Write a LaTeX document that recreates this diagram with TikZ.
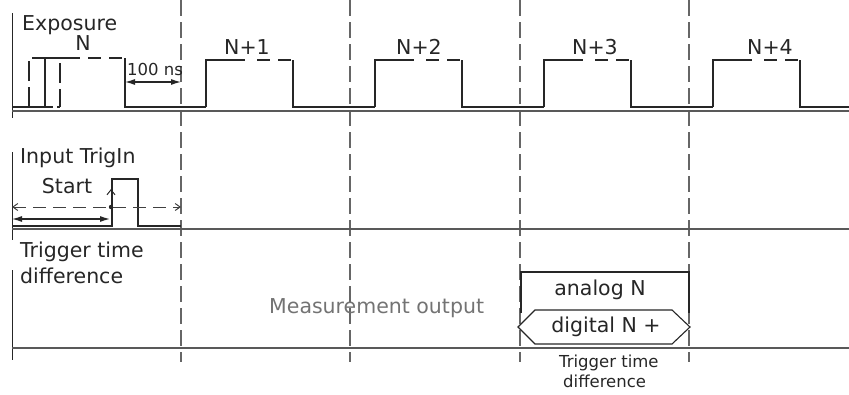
\documentclass[tikz,border=0pt]{standalone}
\usepackage{fontspec}
\setmainfont{DejaVu Sans}
\usetikzlibrary{arrows.meta,positioning}

\begin{document}
\begin{tikzpicture}[
  x=1pt, y=-1pt,
  sig/.style={draw=black!85, line width=1.3pt},
  sigdash/.style={sig, dash pattern=on 13pt off 8pt},
  axis/.style={draw=black!65, line width=1.2pt},
  slot/.style={draw=black!60, line width=1.1pt, dash pattern=on 16pt off 6pt},
  lbl/.style={font=\fontsize{20.5}{24}\selectfont, text=black!85, inner sep=0pt},
  small/.style={font=\fontsize{16.5}{20}\selectfont, text=black!85, inner sep=0pt},
  dim/.style={{Latex[length=10pt,width=6pt]}-{Latex[length=10pt,width=6pt]}, draw=black!85, line width=1.2pt}
]
\useasboundingbox (0,0) rectangle (849,394);

% time slots
\foreach \x in {181,350,520,689}
  \draw[slot] (\x,0) -- (\x,362);

% row frames
\draw[sig, line width=1pt] (12,13) -- (12,118);
\draw[sig, line width=1pt] (12,152) -- (12,240);
\draw[sig, line width=1pt] (12,270) -- (12,360);
\draw[axis] (12,111) -- (849,111);
\draw[axis] (12,229) -- (849,229);
\draw[axis] (12,348) -- (849,348);

% Row 1: Exposure
\node[lbl, anchor=base west] (expo) at (22,30) {Exposure};
\node[lbl, anchor=base] (pN) at (83,50) {N};
\draw[sig] (12,107) -- (45,107) -- (45,58) -- (80,58);
\draw[sigdash] (88,58) -- (125,58);
\draw[sig] (125,58) -- (125,107) -- (206,107);
\draw[sig, dash pattern=on 20pt off 6pt] (29,107) -- (29,58) -- (45,58);
\draw[sig, dash pattern=on 20pt off 6pt] (60,63) -- (60,107);
\draw[sig, dash pattern=on 8pt off 4pt] (45,107) -- (60,107);

\foreach \r/\f/\k/\c in {206/375/1/247, 375/544/2/419, 544/713/3/595, 713/849/4/770}{
  \draw[sig] (\r,107) -- (\r,60) -- (\r+39,60);
  \draw[sigdash] (\r+51,60) -- (\r+87,60);
  \draw[sig] (\r+87,60) -- (\r+87,107) -- (\f,107);
  \node[lbl, anchor=base] (p\k) at (\c,54) {N+\k};
}

% 100 ns
\node[small, anchor=base west] (ns) at (127,75) {100 ns};
\coordinate (fallN) at (125,82);
\coordinate (slot1) at (181,82);
\draw[dim] (fallN) -- (slot1);

% Row 2: Input TrigIn
\node[lbl, anchor=base west] (trig) at (20,163) {Input TrigIn};
\node[lbl, anchor=base] (start) at (67,193) {Start};
\draw[sig] (12,226) -- (112,226) -- (112,179) -- (138,179) -- (138,226) -- (181,226);
\coordinate (tl) at (12,207);
\coordinate (tr) at (181,207);
\coordinate (tdot) at (111,207);
\coordinate (tup) at (111,189);
\draw[draw=black!75, line width=1pt, dash pattern=on 13pt off 7pt,
  {Straight Barb[length=5pt,width=7pt]}-{Straight Barb[length=5pt,width=7pt]}] (tl) -- (tr);
\fill[black!85] (tdot) circle (2.2pt);
\draw[draw=black!85, line width=1pt, -{Straight Barb[length=5pt,width=8pt]}] (tdot) -- (tup);
\coordinate (sl) at (12,219);
\coordinate (sr) at (110,219);
\draw[dim] (sl) -- (sr);

% Row 3: Trigger time difference
\node[lbl, anchor=base west] (ttd) at (20,257) {Trigger time};
\node[lbl, anchor=base west] (ttd2) at (20,283) {difference};
\node[lbl, anchor=base west, text=black!55] (meas) at (269,313) {Measurement output};

\draw[sig] (521,313) -- (521,272) -- (689,272) -- (689,313);
\node[lbl, anchor=base] (ana) at (600,295) {analog N};
\draw[sig, line width=1.1pt] (518,327) -- (535,310) -- (672,310) -- (690,327) -- (672,344) -- (535,344) -- cycle;
\node[lbl, anchor=base] (dig) at (606,332) {digital N +};

\node[small, anchor=base west] (bt1) at (559,367) {Trigger time};
\node[small, anchor=base west] (bt2) at (563,387) {difference};

\end{tikzpicture}
\end{document}
